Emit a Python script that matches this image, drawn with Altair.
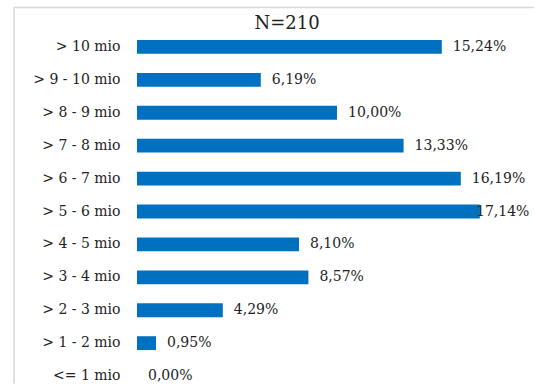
import altair as alt
import pandas as pd

categories = ["> 10 mio", "> 9 - 10 mio", "> 8 - 9 mio", "> 7 - 8 mio", "> 6 - 7 mio",
              "> 5 - 6 mio", "> 4 - 5 mio", "> 3 - 4 mio", "> 2 - 3 mio", "> 1 - 2 mio", "<= 1 mio"]
values = [15.24, 6.19, 10.00, 13.33, 16.19, 17.14, 8.10, 8.57, 4.29, 0.95, 0.00]
labels = ["15,24%", "6,19%", "10,00%", "13,33%", "16,19%", "17,14%", "8,10%", "8,57%", "4,29%", "0,95%", "0,00%"]
title_text = "N=210"

df = pd.DataFrame({"cat": categories, "val": values, "lab": labels})

FONT = "DejaVu Serif"
W, H = 398, 353

y_enc = alt.Y("cat:N", sort=categories,
              scale=alt.Scale(paddingInner=0.58, paddingOuter=0.29, range=[0, 362]),
              axis=alt.Axis(title=None, domain=False, ticks=False, labelFont=FONT,
                            labelFontSize=14, labelColor="#222222", labelPadding=17,
                            zindex=1))
x_scale = alt.Scale(domain=[0, 19.9])
x_enc = alt.X("val:Q", scale=x_scale, axis=None)

# light grey frame: left and top edges only are visible in the picture
frame_top = alt.Chart(pd.DataFrame({"a": [0]})).mark_rule(
    color="#d9d9d9", strokeWidth=1.5
).encode(x=alt.value(-123), x2=alt.value(397), y=alt.value(-23))
frame_left = alt.Chart(pd.DataFrame({"a": [0]})).mark_rule(
    color="#d9d9d9", strokeWidth=1.5
).encode(x=alt.value(-123), y=alt.value(-23), y2=alt.value(H))

bars = alt.Chart(df).mark_bar(color="#0070C0").encode(x=x_enc, y=y_enc)

# labels that would run past the right edge are pulled back inside
text = alt.Chart(df).transform_calculate(
    lx="min(datum.val, 16.4)"
).mark_text(align="left", dx=11, font=FONT, fontSize=14, color="#222222").encode(
    x=alt.X("lx:Q", scale=x_scale, axis=None), y=y_enc, text="lab:N")

title = alt.Chart(pd.DataFrame({"t": [title_text]})).mark_text(
    font=FONT, fontSize=18, color="#222222", align="center", baseline="middle"
).encode(x=alt.value(150), y=alt.value(-7), text="t:N")

chart = alt.layer(frame_top, frame_left, bars, text, title).properties(
    width=W, height=H,
    background="white",
    autosize=alt.AutoSizeParams(type="none"),
    padding={"left": 137, "top": 30.5, "right": 0, "bottom": 0}
).configure_view(stroke="transparent", strokeWidth=0)

chart.save("out.html", embed_options={"renderer": "svg", "actions": False})
